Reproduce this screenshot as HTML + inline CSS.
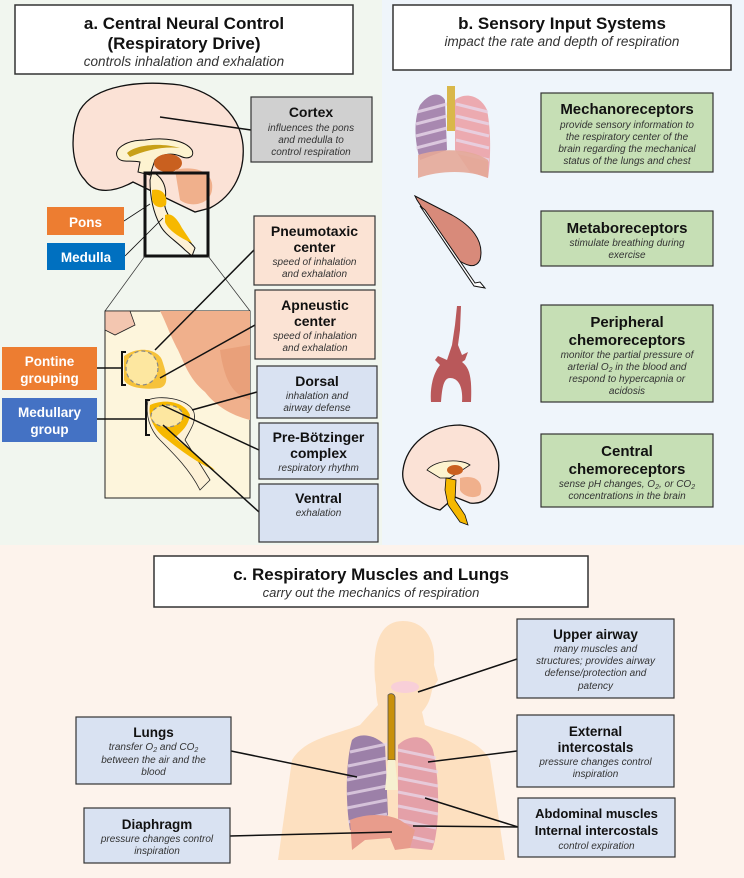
<!DOCTYPE html>
<html><head><meta charset="utf-8"><style>
html,body{margin:0;padding:0;background:#fff}
svg{display:block}
text{font-family:"Liberation Sans",sans-serif;fill:#111}
.t{font-weight:bold}
.i{font-style:italic;fill:#333}
.w{fill:#fff;font-weight:bold}
</style></head><body>
<svg width="744" height="878" viewBox="0 0 744 878" xmlns="http://www.w3.org/2000/svg">
<rect x="0" y="0" width="382" height="545" fill="#f1f6ef"/>
<rect x="382" y="0" width="362" height="545" fill="#eff5fb"/>
<rect x="0" y="545" width="744" height="333" fill="#fdf3ec"/>

<!-- Panel a title -->
<rect x="15" y="5" width="338" height="69" fill="#fff" stroke="#333" stroke-width="1.5"/>
<text x="184" y="29" text-anchor="middle" class="t" font-size="17">a. Central Neural Control</text>
<text x="184" y="49" text-anchor="middle" class="t" font-size="17">(Respiratory Drive)</text>
<text x="184" y="66" text-anchor="middle" class="i" font-size="13.5">controls inhalation and exhalation</text>

<!-- brain -->
<path d="M133,182 C115,192 95,195 85,180 C70,165 70,130 80,110 C95,85 140,80 180,85 C215,92 240,115 243,145 C245,170 235,195 210,208 L195,212 L170,200 Z" fill="#fbe2d6" stroke="#111" stroke-width="1.3"/>
<path d="M118,158 C112,150 125,140 145,140 C165,137 185,140 192,150 C195,157 188,160 180,156 C170,152 160,155 155,160 L150,175 L138,172 L140,162 C130,160 122,163 118,158 Z" fill="#fdf3d0" stroke="#111" stroke-width="1"/>
<path d="M127,153 C135,145 160,142 180,148 C165,146 145,150 130,157 Z" fill="#c8a018"/>
<ellipse cx="168" cy="163" rx="14" ry="9" fill="#c9601f"/>
<path d="M175,170 C195,165 215,172 212,190 C210,205 190,208 180,200 Z" fill="#f0b08c"/>
<path d="M152,172 C160,175 168,185 165,200 C163,210 170,215 172,225 C178,235 190,240 195,248 L192,256 L185,250 C175,240 165,235 160,225 C152,210 150,195 150,180 Z" fill="#fdf1d6" stroke="#111" stroke-width="1"/>
<path d="M152,190 C162,188 168,195 166,205 C160,210 152,206 152,198 Z" fill="#f6b800"/>
<path d="M165,215 C172,212 178,220 182,228 L192,243 C180,238 168,230 165,222 Z" fill="#f6b800"/>
<rect x="145" y="173" width="63" height="83" fill="none" stroke="#111" stroke-width="3"/>

<!-- cortex -->
<line x1="160" y1="117" x2="251" y2="130" stroke="#111" stroke-width="1.5"/>
<rect x="251" y="97" width="121" height="65" fill="#d0d0d0" stroke="#333" stroke-width="1.2"/>
<text x="311" y="117" text-anchor="middle" class="t" font-size="14">Cortex</text>
<text x="311" y="131" text-anchor="middle" class="i" font-size="10">influences the pons</text>
<text x="311" y="143" text-anchor="middle" class="i" font-size="10">and medulla to</text>
<text x="311" y="155" text-anchor="middle" class="i" font-size="10">control respiration</text>

<!-- pons/medulla -->
<line x1="124" y1="221" x2="150" y2="204" stroke="#111" stroke-width="0.8"/>
<line x1="125" y1="256" x2="163" y2="218" stroke="#111" stroke-width="0.8"/>
<rect x="47" y="207" width="77" height="28" fill="#ed7d31"/>
<text x="85.5" y="227" text-anchor="middle" class="w" font-size="13.5">Pons</text>
<rect x="47" y="243" width="78" height="27" fill="#0070c0"/>
<text x="86" y="262" text-anchor="middle" class="w" font-size="13.5">Medulla</text>

<!-- zoom lines and inset -->
<line x1="145" y1="256" x2="105" y2="311" stroke="#333" stroke-width="0.7"/>
<line x1="208" y1="256" x2="250" y2="311" stroke="#333" stroke-width="0.7"/>
<rect x="105" y="311" width="145" height="187" fill="#fdf5dc" stroke="#222" stroke-width="1"/>
<path d="M160,311 L250,311 L250,420 C230,415 215,405 205,392 C190,380 185,365 178,350 C170,335 165,320 160,311 Z" fill="#f0b08c"/>
<path d="M220,350 L250,345 L250,400 C235,395 225,385 220,350 Z" fill="#e9a07a"/>
<path d="M105,311 L130,311 L135,325 L115,335 L105,330 Z" fill="#f3c6b0" stroke="#222" stroke-width="0.8"/>
<path d="M124,356 C140,345 158,350 162,360 C166,372 170,385 160,388 C145,390 128,388 124,380 Z" fill="#f6c23a"/>
<ellipse cx="142" cy="368" rx="16" ry="17" fill="#fde7a0" stroke="#888" stroke-width="1.2" stroke-dasharray="4,3"/>
<path d="M148,400 C160,395 185,398 193,410 C198,420 190,430 185,440 L210,480 L200,490 C190,470 175,455 160,440 C150,430 145,415 148,400 Z" fill="#fdf1d6" stroke="#222" stroke-width="0.8"/>
<path d="M150,405 C165,398 185,402 190,415 C188,428 180,432 175,438 L215,470 C200,465 180,450 165,438 C152,428 148,415 150,405 Z" fill="#f6b800"/>
<ellipse cx="167" cy="416" rx="16" ry="11" fill="#fde7a0" stroke="#888" stroke-width="1.2" stroke-dasharray="4,3"/>
<path d="M126,352 L122,352 L122,385 L126,385" fill="none" stroke="#111" stroke-width="2"/>
<path d="M150,400 L146,400 L146,435 L150,435" fill="none" stroke="#111" stroke-width="2"/>
<line x1="97" y1="368" x2="122" y2="368" stroke="#111" stroke-width="1.5"/>
<line x1="97" y1="419" x2="146" y2="419" stroke="#111" stroke-width="1.5"/>
<line x1="254" y1="250" x2="155" y2="350" stroke="#111" stroke-width="1.5"/>
<line x1="255" y1="325" x2="160" y2="378" stroke="#111" stroke-width="1.5"/>
<line x1="257" y1="392" x2="192" y2="410" stroke="#111" stroke-width="1.5"/>
<line x1="259" y1="450" x2="162" y2="405" stroke="#111" stroke-width="1.5"/>
<line x1="259" y1="512" x2="163" y2="425" stroke="#111" stroke-width="1.5"/>

<rect x="2" y="347" width="95" height="43" fill="#ed7d31"/>
<text x="49.5" y="366" text-anchor="middle" class="w" font-size="13.5">Pontine</text>
<text x="49.5" y="383" text-anchor="middle" class="w" font-size="13.5">grouping</text>
<rect x="2" y="398" width="95" height="44" fill="#4472c4"/>
<text x="49.5" y="417" text-anchor="middle" class="w" font-size="13.5">Medullary</text>
<text x="49.5" y="434" text-anchor="middle" class="w" font-size="13.5">group</text>

<rect x="254" y="216" width="121" height="69" fill="#fbe3d4" stroke="#333" stroke-width="1.2"/>
<text x="314.5" y="236" text-anchor="middle" class="t" font-size="14">Pneumotaxic</text>
<text x="314.5" y="252" text-anchor="middle" class="t" font-size="14">center</text>
<text x="314.5" y="265" text-anchor="middle" class="i" font-size="10">speed of inhalation</text>
<text x="314.5" y="277" text-anchor="middle" class="i" font-size="10">and exhalation</text>
<rect x="255" y="290" width="120" height="69" fill="#fbe3d4" stroke="#333" stroke-width="1.2"/>
<text x="315" y="310" text-anchor="middle" class="t" font-size="14">Apneustic</text>
<text x="315" y="326" text-anchor="middle" class="t" font-size="14">center</text>
<text x="315" y="339" text-anchor="middle" class="i" font-size="10">speed of inhalation</text>
<text x="315" y="351" text-anchor="middle" class="i" font-size="10">and exhalation</text>
<rect x="257" y="366" width="120" height="52" fill="#d9e2f2" stroke="#333" stroke-width="1.2"/>
<text x="317" y="386" text-anchor="middle" class="t" font-size="14">Dorsal</text>
<text x="317" y="399" text-anchor="middle" class="i" font-size="10">inhalation and</text>
<text x="317" y="411" text-anchor="middle" class="i" font-size="10">airway defense</text>
<rect x="259" y="423" width="119" height="56" fill="#d9e2f2" stroke="#333" stroke-width="1.2"/>
<text x="318.5" y="442" text-anchor="middle" class="t" font-size="14">Pre-Bötzinger</text>
<text x="318.5" y="458" text-anchor="middle" class="t" font-size="14">complex</text>
<text x="318.5" y="471" text-anchor="middle" class="i" font-size="10">respiratory rhythm</text>
<rect x="259" y="484" width="119" height="58" fill="#d9e2f2" stroke="#333" stroke-width="1.2"/>
<text x="318.5" y="503" text-anchor="middle" class="t" font-size="14">Ventral</text>
<text x="318.5" y="516" text-anchor="middle" class="i" font-size="10">exhalation</text>

<!-- Panel b -->
<rect x="393" y="5" width="338" height="65" fill="#fff" stroke="#333" stroke-width="1.5"/>
<text x="562" y="29" text-anchor="middle" class="t" font-size="17">b. Sensory Input Systems</text>
<text x="562" y="46" text-anchor="middle" class="i" font-size="13.5">impact the rate and depth of respiration</text>

<!-- lungs icon -->
<path d="M420,105 C430,92 440,92 445,100 L447,150 L420,160 C414,140 414,118 420,105 Z" fill="#a888b0"/>
<path d="M455,100 C465,92 480,95 487,110 C492,135 490,165 488,178 L470,172 L455,150 Z" fill="#ecaab0"/>
<g stroke="#e8d8ea" stroke-width="3" opacity="0.8"><line x1="417" y1="112" x2="447" y2="104"/><line x1="416" y1="124" x2="447" y2="116"/><line x1="416" y1="136" x2="447" y2="128"/><line x1="416" y1="148" x2="447" y2="140"/><line x1="456" y1="104" x2="488" y2="112"/><line x1="456" y1="116" x2="489" y2="124"/><line x1="456" y1="128" x2="489" y2="136"/><line x1="456" y1="140" x2="489" y2="148"/><line x1="456" y1="152" x2="489" y2="160"/></g>
<rect x="447" y="86" width="8" height="45" fill="#d9b84a"/>
<path d="M418,155 C440,148 470,148 488,160 L488,178 C470,170 440,170 418,178 Z" fill="#e4a898" opacity="0.9"/>
<!-- muscle -->
<path d="M415,196 L452,215 C470,225 485,240 480,260 C475,270 465,265 455,258 L417,200 Z" fill="#d88a7a" stroke="#111" stroke-width="1"/>
<path d="M425,210 L475,283 L480,282 L485,288 L474,286 L420,206 Z" fill="#fff" stroke="#111" stroke-width="1"/>
<!-- aorta -->
<path d="M457,306 L461,306 L460,330 L458,345 L462,355 L468,352 L465,360 L462,362 C470,368 472,378 471,402 L462,402 C463,390 460,378 450,378 C443,378 442,390 441,402 L431,402 C430,390 432,375 440,365 L435,360 L438,356 L447,360 L452,345 L455,325 Z" fill="#b9585a"/>
<!-- small brain -->
<path d="M440,510 C420,505 400,490 403,470 C406,445 430,425 460,425 C490,428 502,450 498,475 C495,495 485,505 470,503 L455,497 Z" fill="#fbe2d6" stroke="#111" stroke-width="1.3"/>
<path d="M427,470 C435,460 460,458 470,465 L450,478 L440,478 Z" fill="#fdf3d0" stroke="#111" stroke-width="0.8"/>
<ellipse cx="455" cy="470" rx="8" ry="5" fill="#c9601f"/>
<path d="M460,478 C475,474 485,482 480,495 C472,500 462,495 460,490 Z" fill="#f0b08c"/>
<path d="M446,478 L456,480 L455,500 L465,515 L468,525 L460,522 L448,505 L445,490 Z" fill="#f6b800" stroke="#111" stroke-width="0.8"/>

<rect x="541" y="93" width="172" height="79" fill="#c6dfb5" stroke="#333" stroke-width="1.2"/>
<text x="627" y="114" text-anchor="middle" class="t" font-size="15">Mechanoreceptors</text>
<text x="627" y="128" text-anchor="middle" class="i" font-size="10">provide sensory information to</text>
<text x="627" y="140" text-anchor="middle" class="i" font-size="10">the respiratory center of the</text>
<text x="627" y="152" text-anchor="middle" class="i" font-size="10">brain regarding the mechanical</text>
<text x="627" y="164" text-anchor="middle" class="i" font-size="10">status of the lungs and chest</text>
<rect x="541" y="211" width="172" height="55" fill="#c6dfb5" stroke="#333" stroke-width="1.2"/>
<text x="627" y="233" text-anchor="middle" class="t" font-size="15">Metaboreceptors</text>
<text x="627" y="246" text-anchor="middle" class="i" font-size="10">stimulate breathing during</text>
<text x="627" y="258" text-anchor="middle" class="i" font-size="10">exercise</text>
<rect x="541" y="305" width="172" height="97" fill="#c6dfb5" stroke="#333" stroke-width="1.2"/>
<text x="627" y="327" text-anchor="middle" class="t" font-size="15">Peripheral</text>
<text x="627" y="345" text-anchor="middle" class="t" font-size="15">chemoreceptors</text>
<text x="627" y="358" text-anchor="middle" class="i" font-size="10">monitor the partial pressure of</text>
<text x="627" y="370" text-anchor="middle" class="i" font-size="10">arterial O<tspan font-size="7" dy="2">2</tspan><tspan dy="-2"> in the blood and</tspan></text>
<text x="627" y="382" text-anchor="middle" class="i" font-size="10">respond to hypercapnia or</text>
<text x="627" y="394" text-anchor="middle" class="i" font-size="10">acidosis</text>
<rect x="541" y="434" width="172" height="73" fill="#c6dfb5" stroke="#333" stroke-width="1.2"/>
<text x="627" y="456" text-anchor="middle" class="t" font-size="15">Central</text>
<text x="627" y="474" text-anchor="middle" class="t" font-size="15">chemoreceptors</text>
<text x="627" y="487" text-anchor="middle" class="i" font-size="10">sense pH changes, O<tspan font-size="7" dy="2">2</tspan><tspan dy="-2">, or CO</tspan><tspan font-size="7" dy="2">2</tspan></text>
<text x="627" y="499" text-anchor="middle" class="i" font-size="10">concentrations in the brain</text>

<!-- Panel c -->
<rect x="154" y="556" width="434" height="51" fill="#fff" stroke="#333" stroke-width="1.5"/>
<text x="371" y="580" text-anchor="middle" class="t" font-size="17">c. Respiratory Muscles and Lungs</text>
<text x="371" y="597" text-anchor="middle" class="i" font-size="13">carry out the mechanics of respiration</text>

<!-- body -->
<path d="M403,621 C425,621 436,640 434,665 L438,680 L432,690 C430,700 428,705 422,712 L425,725 C450,735 478,738 490,760 L505,860 L278,860 L292,760 C305,738 335,735 360,725 L378,705 C375,690 377,690 375,680 C372,640 382,621 403,621 Z" fill="#fde0c0"/>
<ellipse cx="405" cy="687" rx="14" ry="6" fill="#f8cfd8"/>
<path d="M352,740 C360,732 375,735 385,745 L388,815 L375,830 L350,830 C345,800 346,760 352,740 Z" fill="#9c80a8"/>
<path d="M398,745 C410,733 428,735 433,750 C440,780 440,830 432,850 L410,848 L398,820 Z" fill="#e4a0a8"/>
<g stroke="#e8d8ea" stroke-width="3" opacity="0.75"><line x1="350" y1="752" x2="387" y2="744"/><line x1="348" y1="766" x2="387" y2="758"/><line x1="347" y1="780" x2="387" y2="772"/><line x1="347" y1="794" x2="387" y2="786"/><line x1="347" y1="808" x2="387" y2="800"/><line x1="348" y1="822" x2="387" y2="814"/><line x1="398" y1="750" x2="436" y2="758"/><line x1="398" y1="764" x2="438" y2="772"/><line x1="398" y1="778" x2="438" y2="786"/><line x1="398" y1="792" x2="438" y2="800"/><line x1="398" y1="806" x2="438" y2="814"/><line x1="398" y1="820" x2="436" y2="828"/><line x1="398" y1="834" x2="434" y2="842"/></g>
<path d="M388,695 C390,693 394,693 395,697 L395,760 L388,760 Z" fill="#c8900a" stroke="#555" stroke-width="0.8"/>
<path d="M388,760 L395,760 L398,790 L385,790 Z" fill="#f6f0d0"/>
<path d="M350,820 C370,812 390,815 400,820 L415,830 L410,848 L395,850 L390,838 L365,840 L352,850 Z" fill="#e89c8c"/>

<line x1="517" y1="659" x2="418" y2="692" stroke="#111" stroke-width="1.5"/>
<line x1="231" y1="751" x2="357" y2="777" stroke="#111" stroke-width="1.5"/>
<line x1="517" y1="751" x2="428" y2="762" stroke="#111" stroke-width="1.5"/>
<line x1="518" y1="827" x2="425" y2="798" stroke="#111" stroke-width="1.5"/>
<line x1="518" y1="827" x2="413" y2="826" stroke="#111" stroke-width="1.5"/>
<line x1="230" y1="836" x2="392" y2="832" stroke="#111" stroke-width="1.5"/>

<rect x="517" y="619" width="157" height="79" fill="#d9e2f2" stroke="#333" stroke-width="1.2"/>
<text x="595.5" y="639" text-anchor="middle" class="t" font-size="13.5">Upper airway</text>
<text x="595.5" y="652" text-anchor="middle" class="i" font-size="10">many muscles and</text>
<text x="595.5" y="664" text-anchor="middle" class="i" font-size="10">structures; provides airway</text>
<text x="595.5" y="676" text-anchor="middle" class="i" font-size="10">defense/protection and</text>
<text x="595.5" y="689" text-anchor="middle" class="i" font-size="10">patency</text>
<rect x="517" y="715" width="157" height="72" fill="#d9e2f2" stroke="#333" stroke-width="1.2"/>
<text x="595.5" y="736" text-anchor="middle" class="t" font-size="13.5">External</text>
<text x="595.5" y="752" text-anchor="middle" class="t" font-size="13.5">intercostals</text>
<text x="595.5" y="765" text-anchor="middle" class="i" font-size="10">pressure changes control</text>
<text x="595.5" y="777" text-anchor="middle" class="i" font-size="10">inspiration</text>
<rect x="518" y="798" width="157" height="59" fill="#d9e2f2" stroke="#333" stroke-width="1.2"/>
<text x="596.5" y="818" text-anchor="middle" class="t" font-size="13">Abdominal muscles</text>
<text x="596.5" y="835" text-anchor="middle" class="t" font-size="13">Internal intercostals</text>
<text x="596.5" y="849" text-anchor="middle" class="i" font-size="10">control expiration</text>
<rect x="76" y="717" width="155" height="67" fill="#d9e2f2" stroke="#333" stroke-width="1.2"/>
<text x="153.5" y="737" text-anchor="middle" class="t" font-size="13.5">Lungs</text>
<text x="153.5" y="750" text-anchor="middle" class="i" font-size="10">transfer O<tspan font-size="7" dy="2">2</tspan><tspan dy="-2"> and CO</tspan><tspan font-size="7" dy="2">2</tspan></text>
<text x="153.5" y="763" text-anchor="middle" class="i" font-size="10">between the air and the</text>
<text x="153.5" y="775" text-anchor="middle" class="i" font-size="10">blood</text>
<rect x="84" y="808" width="146" height="55" fill="#d9e2f2" stroke="#333" stroke-width="1.2"/>
<text x="157" y="829" text-anchor="middle" class="t" font-size="13.5">Diaphragm</text>
<text x="157" y="842" text-anchor="middle" class="i" font-size="10">pressure changes control</text>
<text x="157" y="854" text-anchor="middle" class="i" font-size="10">inspiration</text>
</svg>
</body></html>
